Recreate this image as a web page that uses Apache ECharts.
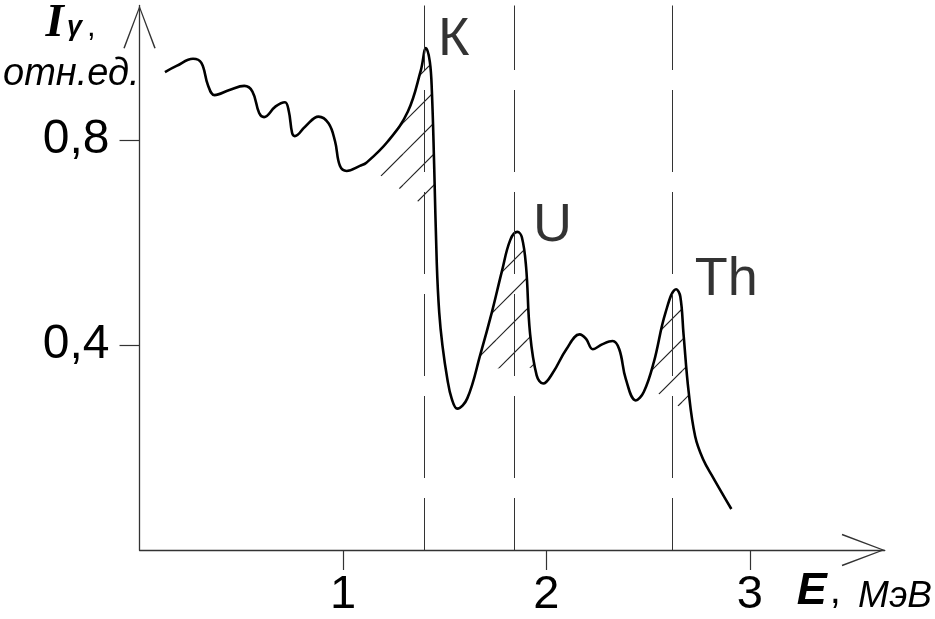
<!DOCTYPE html>
<html><head><meta charset="utf-8">
<script src="https://cdn.jsdelivr.net/npm/echarts@6/dist/echarts.min.js"></script>
<style>html,body{margin:0;padding:0;background:#fff}#c{width:935px;height:619px}</style>
</head><body><div id="c"></div>
<script>
// ---- data ----
const energy = [0.125,0.182,0.263,0.304,0.336,0.369,0.442,0.515,0.555,0.588,0.612,0.669,0.715,0.734,0.750,0.763,0.815,0.880,0.929,0.961,0.985,1.018,1.083,1.115,1.221,1.319,1.383,1.408,1.427,1.437,1.448,1.461,1.473,1.489,1.513,1.534,1.562,1.611,1.676,1.733,1.781,1.822,1.857,1.879,1.900,1.919,1.952,1.984,2.033,2.098,2.163,2.195,2.228,2.276,2.325,2.358,2.390,2.439,2.479,2.528,2.585,2.638,2.658,2.674,2.699,2.731,2.770,2.820,2.909];
const intensity = [0.933,0.945,0.959,0.951,0.908,0.888,0.898,0.906,0.895,0.853,0.845,0.866,0.874,0.856,0.814,0.808,0.827,0.846,0.833,0.798,0.750,0.740,0.750,0.756,0.798,0.856,0.937,0.980,0.953,0.895,0.754,0.560,0.464,0.399,0.334,0.296,0.276,0.296,0.383,0.466,0.544,0.605,0.621,0.611,0.553,0.425,0.341,0.325,0.347,0.392,0.421,0.412,0.392,0.402,0.408,0.392,0.334,0.292,0.309,0.367,0.463,0.509,0.495,0.421,0.309,0.222,0.177,0.141,0.080];
const markerLines = [1.40, 1.84, 2.62];
const peakNames = ['К', 'U', 'Th'];
const peakLabelX = [1.470, 1.937, 2.732];
const peakLabelY = [0.995, 0.632, 0.526];
const hatchStart = [[1.101, 0.754], [1.656, 0.354], [2.489, 0.320]];
const hatchEnd = [[1.454, 0.657], [1.939, 0.356], [2.713, 0.265]];
const xTicks = [1, 2, 3];
const xTickLabels = ['1', '2', '3'];
const yTicks = [0.4, 0.8];
const yTickLabels = ['0,4', '0,8'];
const xMax = 3.663, yMax = 1.063;

// ---- hatch pattern ----
function hatchPattern() {
  const T = 31, c = 30;
  const cv = document.createElement('canvas');
  cv.width = T; cv.height = T;
  const ctx = cv.getContext('2d');
  ctx.strokeStyle = '#222'; ctx.lineWidth = 1.2;
  for (const k of [-1, 0, 1]) {
    const s = c + k * T;
    ctx.beginPath(); ctx.moveTo(-2, s + 2); ctx.lineTo(s + 2, -2); ctx.stroke();
  }
  return cv;
}
const pat = hatchPattern();

const arrowPath = 'path://M16,0 L32,42 L30.6,42.5 L16,3.2 L1.4,42.5 L0,42 Z';
const font = 'Liberation Sans';

const chart = echarts.init(document.getElementById('c'), null, {renderer: 'canvas'});
chart.setOption({
  animation: false,
  backgroundColor: '#fff',
  grid: {left: 136, right: 47, top: 3, bottom: 66, containLabel: false},
  xAxis: {
    type: 'value', min: 0, max: xMax,
    splitLine: {show: false},
    axisLine: {lineStyle: {color: '#333', width: 1.3}, symbol: ['none', arrowPath], symbolSize: [33, 43], symbolOffset: [0, -21.5]},
    axisTick: {show: true, customValues: xTicks, length: 20, lineStyle: {color: '#333', width: 1.2}},
    axisLabel: {show: true, customValues: xTicks, margin: 22, fontSize: 47, fontFamily: font, color: '#000',
      formatter: v => { const i = xTicks.indexOf(Math.round(v * 1000) / 1000); return i >= 0 ? xTickLabels[i] : ''; }},
    name: '{e|E}{c|,}{m|МэВ}',
    nameLocation: 'end', nameGap: -88,
    nameTextStyle: {align: 'left', verticalAlign: 'top', padding: [20, 0, 0, 0],
      rich: {
        e: {fontFamily: font, fontSize: 45, fontWeight: 'bold', fontStyle: 'italic', color: '#000', lineHeight: 44},
        c: {fontFamily: font, fontSize: 40, color: '#000', lineHeight: 44, padding: [0, 17, 0, 3]},
        m: {fontFamily: font, fontSize: 37, fontStyle: 'italic', color: '#000', lineHeight: 44, padding: [9, 0, 0, 0]}
      }}
  },
  yAxis: {
    type: 'value', min: 0, max: yMax,
    splitLine: {show: false},
    axisLine: {lineStyle: {color: '#333', width: 1.3}, symbol: ['none', arrowPath], symbolSize: [33, 43], symbolOffset: [0, -21.5]},
    axisTick: {show: true, customValues: yTicks, length: 20, lineStyle: {color: '#333', width: 1.2}},
    axisLabel: {show: true, customValues: yTicks, margin: 30, fontSize: 48, fontFamily: font, color: '#000',
      formatter: v => { const i = yTicks.indexOf(Math.round(v * 1000) / 1000); return i >= 0 ? yTickLabels[i] : ''; }},
    name: '{i|I}{g|γ}{c|,}\n{u|отн.ед.}',
    nameLocation: 'end', nameGap: 5,
    nameTextStyle: {align: 'right', verticalAlign: 'top',
      rich: {
        i: {fontFamily: 'Liberation Serif', fontSize: 47, fontWeight: 'bold', fontStyle: 'italic', color: '#000', lineHeight: 46, padding: [0, 3, 0, 0]},
        g: {fontFamily: font, fontSize: 27, fontWeight: 'bold', fontStyle: 'italic', color: '#000', lineHeight: 46, padding: [8, 0, 0, 0]},
        c: {fontFamily: font, fontSize: 31, color: '#000', lineHeight: 46, padding: [7, 44, 0, 5]},
        u: {fontFamily: font, fontSize: 38, fontStyle: 'italic', color: '#000', lineHeight: 56}
      }}
  },
  series: [
    {
      type: 'custom', coordinateSystem: 'cartesian2d', silent: true, z: 1, clip: false,
      data: hatchStart.map((p, i) => [p[0], p[1], i]),
      encode: {x: 0, y: 1},
      renderItem: function (params, api) {
        const i = params.dataIndex;
        const s = hatchStart[i], e = hatchEnd[i];
        const pts = [api.coord(s)];
        for (let k = 0; k < energy.length; k++) {
          if (energy[k] > s[0] && energy[k] < e[0]) pts.push(api.coord([energy[k], intensity[k]]));
        }
        pts.push(api.coord(e));
        return {type: 'polygon', shape: {points: pts}, style: {fill: {image: pat, repeat: 'repeat'}, stroke: null}};
      }
    },
    {
      type: 'line', z: 3, silent: true,
      data: energy.map((x, i) => [x, intensity[i]]),
      smooth: 0.4, showSymbol: false, symbol: 'none',
      lineStyle: {color: '#000', width: 2.6},
      markLine: {
        silent: true, symbol: ['none', 'none'], label: {show: false},
        lineStyle: {color: '#333', width: 1, type: [82, 20], dashOffset: 30},
        data: markerLines.map(x => [{coord: [x, 0]}, {coord: [x, yMax]}])
      }
    },
    {
      type: 'scatter', z: 4, silent: true,
      data: peakNames.map((n, i) => ({value: [peakLabelX[i], peakLabelY[i]], name: n})),
      symbolSize: 1, itemStyle: {color: 'rgba(0,0,0,0)'},
      label: {show: true, formatter: '{b}', position: [0, 0], align: 'left', verticalAlign: 'middle',
        fontSize: 54, fontFamily: font, color: '#000'}
    }
  ]
});
</script></body></html>
